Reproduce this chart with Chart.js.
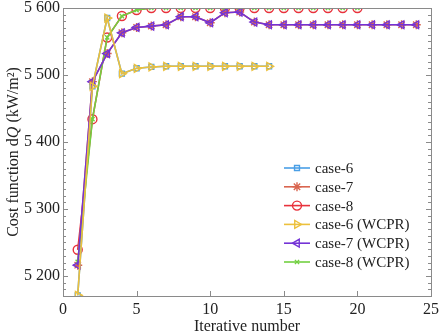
<!DOCTYPE html>
<html>
<head>
<meta charset="utf-8">
<script src="https://cdn.jsdelivr.net/npm/chart.js@4"></script>
<style>
  html, body { margin: 0; padding: 0; background: #fff; }
  #wrap { width: 443px; height: 336px; }
</style>
</head>
<body>
<div id="wrap"><canvas id="costChart"></canvas></div>
<script>
'use strict'
{
  // iteration values and cost function per case
  const case6 = [5171, 5483, 5585, 5502, 5510, 5512, 5513, 5513, 5513, 5513, 5513, 5513, 5513, 5513];
  const case7 = [5216, 5490, 5532, 5563, 5571, 5573, 5575, 5587, 5587, 5578, 5593, 5594, 5579, 5575,
                 5575, 5575, 5575, 5575, 5575, 5575, 5575, 5575, 5575, 5575];
  const case8 = [5239, 5434, 5556, 5588, 5597, 5600, 5600, 5600, 5600, 5600, 5600, 5600, 5600, 5600,
                 5600, 5600, 5600, 5600, 5600, 5600];
  const case6w = [5171, 5483, 5585, 5502, 5510, 5512, 5513, 5513, 5513, 5513, 5513, 5513, 5513, 5513];
  const case7w = [5216, 5490, 5532, 5563, 5571, 5573, 5575, 5587, 5587, 5578, 5593, 5594, 5579, 5575,
                  5575, 5575, 5575, 5575, 5575, 5575, 5575, 5575, 5575, 5575];
  const case8w = [5221, 5434, 5556, 5588, 5597, 5600, 5600, 5600, 5600, 5600, 5600, 5600, 5600, 5600,
                  5600, 5600, 5600, 5600, 5600, 5600];

  const xTicks = [0, 5, 10, 15, 20, 25];
  const yTicks = [5200, 5300, 5400, 5500, 5600];

  const toPoints = (arr) => arr.map((v, i) => ({ x: i + 1, y: v }));
  const serif = '"Liberation Serif", "DejaVu Serif", serif';

  const series = [
    { label: 'case-6', data: case6, color: '#4a9fe6', style: 'rect', rot: 0, r: 3.5, order: 2 },
    { label: 'case-7', data: case7, color: '#d9654f', style: 'star', rot: 0, r: 4.5, order: 2 },
    { label: 'case-8', data: case8, color: '#e8323c', style: 'circle', rot: 0, r: 4.5, order: 2 },
    { label: 'case-6 (WCPR)', data: case6w, color: '#ecc03c', style: 'triangle', rot: 90, r: 4.5, order: 1 },
    { label: 'case-7 (WCPR)', data: case7w, color: '#7433d6', style: 'triangle', rot: -90, r: 4.5, order: 1 },
    { label: 'case-8 (WCPR)', data: case8w, color: '#72d040', style: 'crossRot', rot: 0, r: 3, order: 1 },
  ];

  const datasets = series.map(s => ({
    label: s.label,
    data: toPoints(s.data),
    borderColor: s.color,
    backgroundColor: 'rgba(0,0,0,0)',
    borderWidth: 1.6,
    pointStyle: s.style,
    pointRotation: s.rot,
    pointRadius: s.r,
    pointBorderColor: s.color,
    pointBorderWidth: 1.4,
    pointBackgroundColor: 'rgba(0,0,0,0)',
    tension: 0,
    order: s.order,
  }));

  // frame, inward ticks, y title and legend
  const decor = {
    id: 'decor',
    afterDraw(chart) {
      const { ctx, chartArea: a, scales } = chart;
      const xs = scales.x, ys = scales.y;
      ctx.save();
      ctx.strokeStyle = '#8a8a8a';
      ctx.lineWidth = 1;
      ctx.strokeRect(a.left + 0.5, a.top + 0.5, a.right - a.left, a.bottom - a.top);

      ctx.beginPath();
      for (let v = 5180; v <= 5600; v += 10) {
        const py = Math.round(ys.getPixelForValue(v)) + 0.5;
        const len = v % 100 === 0 ? 5 : 3;
        ctx.moveTo(a.left, py); ctx.lineTo(a.left + len, py);
        ctx.moveTo(a.right, py); ctx.lineTo(a.right - len, py);
      }
      xTicks.forEach(v => {
        const px = Math.round(xs.getPixelForValue(v)) + 0.5;
        ctx.moveTo(px, a.bottom); ctx.lineTo(px, a.bottom - 5);
      });
      ctx.stroke();

      // y axis title with italic Q
      ctx.fillStyle = '#222';
      ctx.textBaseline = 'middle';
      const parts = [
        ['Cost function d', '16px ' + serif],
        ['Q', 'italic 16px ' + serif],
        [' (kW/m\u00b2)', '16px ' + serif],
      ];
      let total = 0;
      parts.forEach(p => { ctx.font = p[1]; total += ctx.measureText(p[0]).width; });
      ctx.translate(14, (a.top + a.bottom) / 2);
      ctx.rotate(-Math.PI / 2);
      let tx = -total / 2;
      ctx.textAlign = 'left';
      parts.forEach(p => {
        ctx.font = p[1];
        ctx.fillText(p[0], tx, 0);
        tx += ctx.measureText(p[0]).width;
      });
      ctx.setTransform(1, 0, 0, 1, 0, 0);

      // legend
      const lx = 284, ly = 168, step = 18.8;
      ctx.font = '15px ' + serif;
      ctx.textAlign = 'left';
      ctx.textBaseline = 'middle';
      series.forEach((s, i) => {
        const y = ly + i * step;
        ctx.strokeStyle = s.color;
        ctx.lineWidth = 1.6;
        ctx.beginPath();
        ctx.moveTo(lx, y); ctx.lineTo(lx + 26, y);
        ctx.stroke();
        ctx.lineWidth = 1.4;
        ctx.fillStyle = 'rgba(0,0,0,0)';
        Chart.helpers.drawPoint(ctx, {
          pointStyle: s.style, rotation: s.rot, radius: s.r, borderWidth: 1.4,
        }, lx + 13, y);
        ctx.fillStyle = '#222';
        ctx.fillText(s.label, lx + 31, y + 1);
      });
      ctx.restore();
    },
  };

  const tickFont = { family: serif, size: 16 };

  new Chart(document.getElementById('costChart'), {
    type: 'line',
    data: { datasets: datasets },
    options: {
      animation: false,
      responsive: true,
      maintainAspectRatio: false,
      layout: { padding: { top: 8, right: 12, left: 0, bottom: 0 } },
      plugins: { legend: { display: false }, tooltip: { enabled: false } },
      scales: {
        x: {
          type: 'linear',
          min: 0,
          max: 25,
          grid: { display: false, drawTicks: false },
          border: { display: false },
          afterBuildTicks: (s) => { s.ticks = xTicks.map(v => ({ value: v })); },
          afterFit: (s) => { s.height = 40; s.paddingLeft = 0; s.paddingRight = 0; },
          ticks: { font: tickFont, color: '#222', padding: 4, maxRotation: 0 },
          title: { display: true, text: 'Iterative number', font: tickFont, color: '#222', padding: 0 },
        },
        y: {
          min: 5170,
          max: 5600,
          grid: { display: false, drawTicks: false },
          border: { display: false },
          afterBuildTicks: (s) => { s.ticks = yTicks.map(v => ({ value: v })); },
          afterFit: (s) => { s.width = 63; s.paddingTop = 0; s.paddingBottom = 0; },
          ticks: {
            font: tickFont, color: '#222', padding: 3,
            callback: (v) => String(v).replace(/^(\d)(\d{3})$/, '$1 $2'),
          },
        },
      },
    },
    plugins: [decor],
  });
}
</script>
</body>
</html>
